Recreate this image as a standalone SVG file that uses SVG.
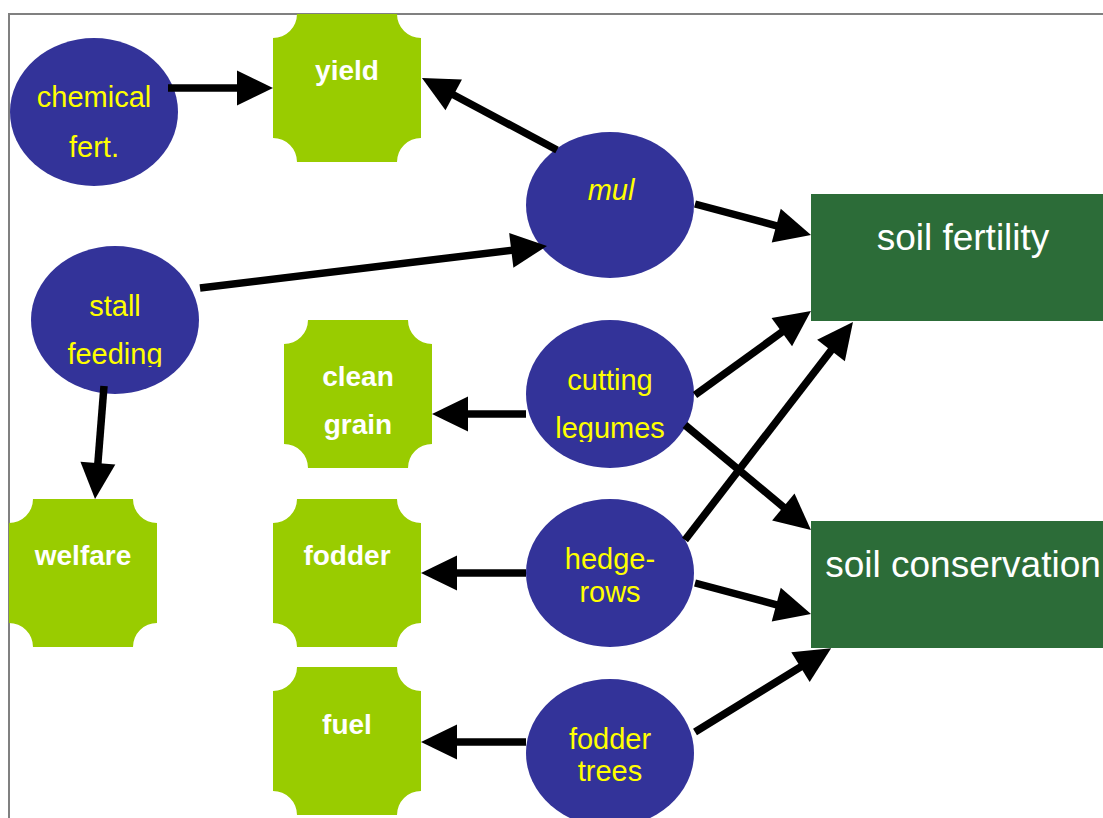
<svg xmlns="http://www.w3.org/2000/svg" width="1103" height="818" viewBox="0 0 1103 818">
<style>
.oval{fill:#333399}
.tile{fill:#99CC00}
.box{fill:#2C6C38}
.ot{font-family:"Liberation Sans",Arial,sans-serif;font-size:29px;fill:#FFFF00;text-anchor:middle}
.tt{font-family:"Liberation Sans",Arial,sans-serif;font-size:28px;font-weight:bold;fill:#FFFFFF;text-anchor:middle}
.bt{font-family:"Liberation Sans",Arial,sans-serif;font-size:37px;fill:#FFFFFF;text-anchor:middle}
.edge{stroke:#000;stroke-width:7.5;fill:none;marker-end:url(#ah)}
</style>
<defs>
<marker id="ah" markerUnits="userSpaceOnUse" markerWidth="36" markerHeight="35" refX="10" refY="17.5" orient="auto" overflow="visible">
<path d="M0,0 L36,17.5 L0,35 Z" fill="#000"/>
</marker>
<clipPath id="clipFeed"><rect x="0" y="0" width="300" height="367"/></clipPath>
<clipPath id="clipLeg"><rect x="500" y="0" width="300" height="442"/></clipPath>
</defs>
<rect x="0" y="0" width="1103" height="818" fill="#FFFFFF"/>
<path d="M9,818 V14 H1103" fill="none" stroke="#808080" stroke-width="2"/>

<g id="yield">
<path class="tile" d="M297,14 H397 A24,24 0 0 0 421,38 V138 A24,24 0 0 0 397,162 H297 A24,24 0 0 0 273,138 V38 A24,24 0 0 0 297,14 Z"/>
<text class="tt" x="347" y="80">yield</text>
</g>
<g id="clean-grain">
<path class="tile" d="M308,320 H408 A24,24 0 0 0 432,344 V444 A24,24 0 0 0 408,468 H308 A24,24 0 0 0 284,444 V344 A24,24 0 0 0 308,320 Z"/>
<text class="tt" x="358" y="386">clean</text>
<text class="tt" x="358" y="434">grain</text>
</g>
<g id="welfare">
<path class="tile" d="M33,499 H133 A24,24 0 0 0 157,523 V623 A24,24 0 0 0 133,647 H33 A24,24 0 0 0 9,623 V523 A24,24 0 0 0 33,499 Z"/>
<text class="tt" x="83" y="565">welfare</text>
</g>
<g id="fodder">
<path class="tile" d="M297,499 H397 A24,24 0 0 0 421,523 V623 A24,24 0 0 0 397,647 H297 A24,24 0 0 0 273,623 V523 A24,24 0 0 0 297,499 Z"/>
<text class="tt" x="347" y="565">fodder</text>
</g>
<g id="fuel">
<path class="tile" d="M297,667 H397 A24,24 0 0 0 421,691 V791 A24,24 0 0 0 397,815 H297 A24,24 0 0 0 273,791 V691 A24,24 0 0 0 297,667 Z"/>
<text class="tt" x="347" y="734">fuel</text>
</g>

<g id="chemical-fert">
<ellipse class="oval" cx="94" cy="112" rx="84" ry="74"/>
<text class="ot" x="94" y="107">chemical</text>
<text class="ot" x="94" y="157">fert.</text>
</g>
<g id="stall-feeding">
<ellipse class="oval" cx="115" cy="320" rx="84" ry="74"/>
<text class="ot" x="115" y="316">stall</text>
<text class="ot" x="115" y="364" clip-path="url(#clipFeed)">feeding</text>
</g>
<g id="mul">
<ellipse class="oval" cx="610" cy="205" rx="84" ry="73"/>
<text class="ot" x="611" y="200" font-style="italic">mul</text>
</g>
<g id="cutting-legumes">
<ellipse class="oval" cx="610" cy="394" rx="84" ry="74"/>
<text class="ot" x="610" y="390">cutting</text>
<text class="ot" x="610" y="438" clip-path="url(#clipLeg)">legumes</text>
</g>
<g id="hedgerows">
<ellipse class="oval" cx="610" cy="573" rx="84" ry="74"/>
<text class="ot" x="610" y="569">hedge-</text>
<text class="ot" x="610" y="602">rows</text>
</g>
<g id="fodder-trees">
<ellipse class="oval" cx="610" cy="753" rx="84" ry="74"/>
<text class="ot" x="610" y="749">fodder</text>
<text class="ot" x="610" y="781">trees</text>
</g>

<g id="soil-fertility">
<rect class="box" x="811" y="194" width="292" height="127"/>
<text class="bt" x="963" y="250">soil fertility</text>
</g>
<g id="soil-conservation">
<rect class="box" x="811" y="521" width="292" height="127"/>
<text class="bt" x="963" y="577">soil conservation</text>
</g>

<g id="connectors">
<line class="edge" x1="168" y1="88" x2="247" y2="88"/>
<line class="edge" x1="557" y1="150" x2="444.9" y2="90.2"/>
<line class="edge" x1="695" y1="204" x2="785.9" y2="228.3"/>
<line class="edge" x1="200" y1="288" x2="521.2" y2="249.1"/>
<line class="edge" x1="104" y1="386" x2="97.1" y2="473.1"/>
<line class="edge" x1="526" y1="414" x2="458" y2="414"/>
<line class="edge" x1="695" y1="395" x2="789.9" y2="326.3"/>
<line class="edge" x1="685" y1="425" x2="791" y2="513.4"/>
<line class="edge" x1="685" y1="540" x2="837.1" y2="342.6"/>
<line class="edge" x1="526" y1="573" x2="447" y2="573"/>
<line class="edge" x1="695" y1="583" x2="785.9" y2="607.3"/>
<line class="edge" x1="526" y1="742" x2="447" y2="742"/>
<line class="edge" x1="695" y1="732" x2="809" y2="661.8"/>
</g>
</svg>
